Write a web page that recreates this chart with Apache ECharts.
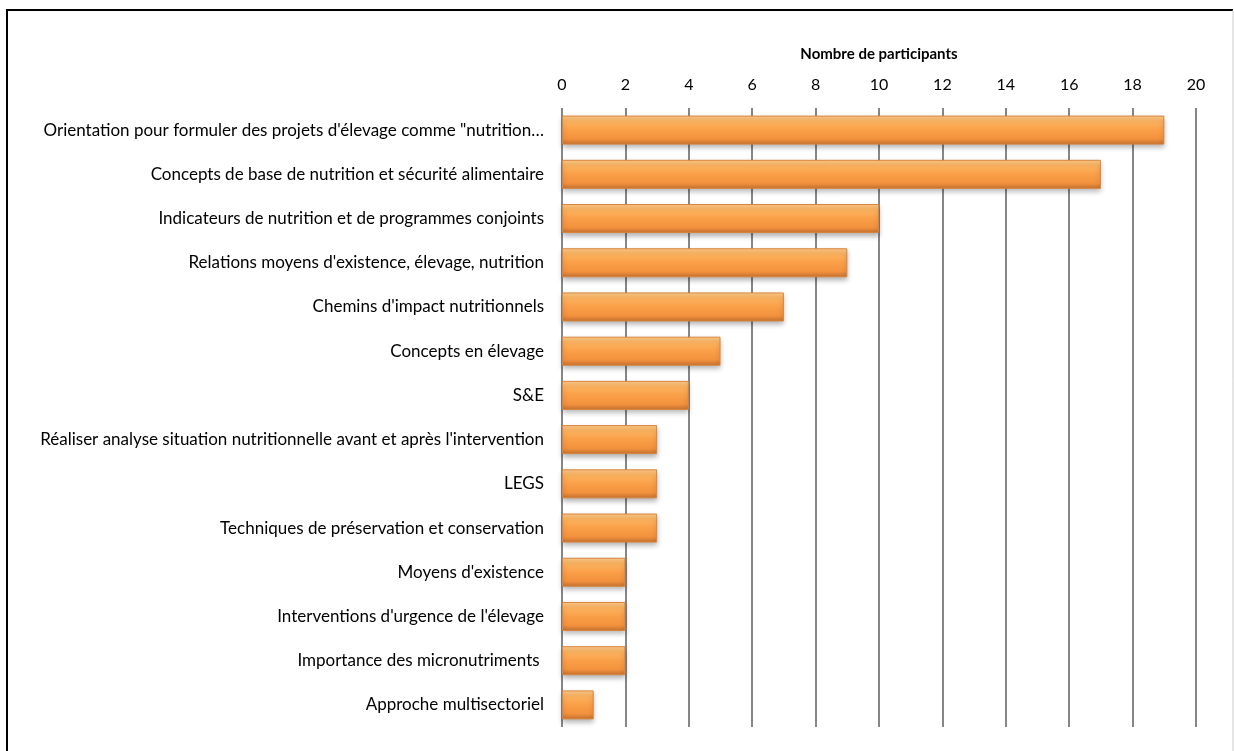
<!DOCTYPE html>
<html><head><meta charset="utf-8">
<script src="https://cdn.jsdelivr.net/npm/echarts@6/dist/echarts.min.js"></script>
<style>html,body{margin:0;padding:0;background:#fff}#c{width:1234px;height:751px}</style>
</head><body><div id="c"></div>
<script>
const categories = [
  "Orientation pour formuler des projets d'élevage comme \"nutrition…",
  "Concepts de base de nutrition et sécurité alimentaire",
  "Indicateurs de nutrition et de programmes conjoints",
  "Relations moyens d'existence, élevage, nutrition",
  "Chemins d'impact nutritionnels",
  "Concepts en élevage",
  "S&E",
  "Réaliser analyse situation nutritionnelle avant et après l'intervention",
  "LEGS",
  "Techniques de préservation et conservation",
  "Moyens d'existence",
  "Interventions d'urgence de l'élevage",
  "Importance des micronutriments ",
  "Approche multisectoriel"
];
const participants = [19, 17, 10, 9, 7, 5, 4, 3, 3, 3, 2, 2, 2, 1];
const axisTitle = "Nombre de participants";

const chart = echarts.init(document.getElementById('c'));
const font = 'Lato, "Open Sans", sans-serif';
chart.setOption({
  animation: false,
  backgroundColor: '#fff',
  grid: { left: 562, right: 38, top: 108, bottom: 24 },
  graphic: [
    { type: 'line', shape: { x1: 7, y1: 10, x2: 1233, y2: 10 }, style: { stroke: '#000', lineWidth: 2 } },
    { type: 'line', shape: { x1: 7, y1: 9, x2: 7, y2: 751 }, style: { stroke: '#000', lineWidth: 2 } },
    { type: 'line', shape: { x1: 1233, y1: 10, x2: 1233, y2: 751 }, style: { stroke: '#ccc', lineWidth: 1 } }
  ],
  xAxis: {
    type: 'value', position: 'top', min: 0, max: 20, interval: 2,
    name: axisTitle, nameLocation: 'middle', nameGap: 46,
    nameTextStyle: { fontFamily: font, fontSize: 15, fontWeight: 'bold', color: '#000' },
    axisLine: { show: false }, axisTick: { show: false },
    axisLabel: { fontFamily: font, fontSize: 16, color: '#000', margin: 15 },
    splitLine: { show: true, lineStyle: { color: '#868686', width: 2 } }
  },
  yAxis: {
    type: 'category', inverse: true, data: categories,
    axisLine: { show: false }, axisTick: { show: false },
    axisLabel: { fontFamily: font, fontSize: 17, color: '#000', margin: 18 }
  },
  series: [{
    type: 'bar', data: participants, barWidth: 29,
    itemStyle: {
      color: new echarts.graphic.LinearGradient(0, 0, 0, 1, [
        { offset: 0, color: '#FFCC8C' },
        { offset: 0.2, color: '#FDB460' },
        { offset: 0.5, color: '#FA9F48' },
        { offset: 0.8, color: '#F3923E' },
        { offset: 1, color: '#C47030' }
      ]),
      borderColor: '#D9843C', borderWidth: 1,
      shadowColor: 'rgba(0,0,0,0.3)', shadowBlur: 5, shadowOffsetY: 3
    }
  }]
});
</script></body></html>
